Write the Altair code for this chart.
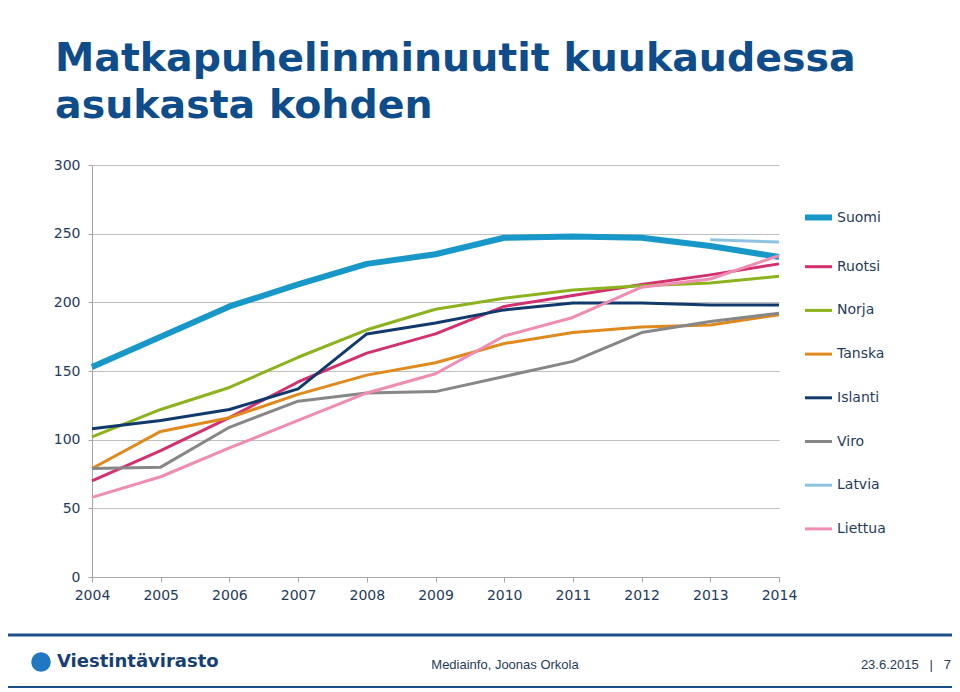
import altair as alt
import pandas as pd

years = list(range(2004, 2015))
series = ["Suomi", "Ruotsi", "Norja", "Tanska", "Islanti", "Viro", "Latvia", "Liettua"]
colors = ["#1798c8", "#d3306f", "#8cb31d", "#e0891c", "#103a6b", "#878787", "#8ec3e0", "#f08cb2"]
widths = [6, 3, 3, 3, 3, 3, 3, 3]

suomi = [153, 175, 197, 213, 228, 235, 247, 248, 247, 241, 233]
ruotsi = [70, 92, 116, 142, 163, 177, 197, 205, 213, 220, 228]
norja = [102, 122, 138, 160, 180, 195, 203, 209, 212, 214, 219]
tanska = [79, 106, 116, 133, 147, 156, 170, 178, 182, 183.5, 191]
islanti = [108, 114, 122, 137, 177, 185, 194.5, 199.5, 199.5, 198, 198]
viro = [79, 80, 109, 128, 134, 135, 146, 157, 178, 186, 192]
latvia = [None] * 9 + [245.5, 244]
liettua = [58, 73, 94, 114, 134, 148, 175.5, 189, 211, 217, 234]

values = [suomi, ruotsi, norja, tanska, islanti, viro, latvia, liettua]

title_lines = ["Matkapuhelinminuutit kuukaudessa", "asukasta kohden"]
footer_center = "Mediainfo, Joonas Orkola"
footer_right = "23.6.2015\u00a0\u00a0\u00a0|\u00a0\u00a0\u00a07"
logo_text = "Viestintävirasto"

rows = []
for i, (s, vals) in enumerate(zip(series, values)):
    for y, v in zip(years, vals):
        if v is not None:
            rows.append({"series": s, "year": y, "value": v, "order": i})
df = pd.DataFrame(rows)

W, H = 687, 412
NAVY = "#1f3b5c"
BLUE = "#0f4c8a"

legend = alt.Legend(
    orient="none", legendX=710, legendY=36, title=None,
    symbolType="stroke", symbolSize=729, symbolStrokeWidth=3.5, labelFont="DejaVu Sans",
    labelFontSize=14, labelColor=NAVY, rowPadding=21.7, labelOffset=2,
)

lines = alt.Chart(df).mark_line(strokeCap="butt", strokeJoin="round").encode(
    x=alt.X("year:Q", scale=alt.Scale(domain=[2004, 2014], nice=False, zero=False),
            axis=alt.Axis(values=years, format="d", title=None, grid=False,
                          labelFont="DejaVu Sans", labelFontSize=14, labelColor=NAVY,
                          domainColor="#a6a6a6", tickColor="#a6a6a6", tickSize=5,
                          labelPadding=6, labelFlush=False, labelOverlap=False)),
    y=alt.Y("value:Q", scale=alt.Scale(domain=[0, 300], nice=False),
            axis=alt.Axis(values=[0, 50, 100, 150, 200, 250, 300], title=None,
                          labelFont="DejaVu Sans", labelFontSize=14, labelColor=NAVY,
                          gridColor="#bfbfbf", domainColor="#a6a6a6", tickColor="#a6a6a6",
                          tickSize=4, labelPadding=8)),
    color=alt.Color("series:N", scale=alt.Scale(domain=series, range=colors), legend=legend),
    strokeWidth=alt.StrokeWidth("series:N", scale=alt.Scale(type="ordinal", domain=series, range=widths), legend=None),
    order=alt.Order("order:Q"),
)

title = alt.Chart(pd.DataFrame({"t": ["\n".join(title_lines)]})).mark_text(
    align="left", baseline="alphabetic", font="DejaVu Sans", fontSize=39.5,
    fontWeight="bold", color=BLUE, lineBreak="\n", lineHeight=47,
).encode(x=alt.value(-37), y=alt.value(-94), text="t:N")

rule_top = alt.Chart(pd.DataFrame({"a": [0]})).mark_rule(color="#1b4f8a", strokeWidth=3).encode(
    x=alt.value(-100), x2=alt.value(900), y=alt.value(470))

bar_bottom = alt.Chart(pd.DataFrame({"a": [0]})).mark_rect(color="#1b4f8a").encode(
    x=alt.value(-100), x2=alt.value(900), y=alt.value(521), y2=alt.value(530))

logo_icon = alt.Chart(pd.DataFrame({"a": [0]})).mark_point(
    filled=True, shape="circle", size=380, color="#1f78c1", opacity=1).encode(
    x=alt.value(-51), y=alt.value(497))

logo = alt.Chart(pd.DataFrame({"t": [logo_text]})).mark_text(
    align="left", baseline="middle", font="DejaVu Sans", fontSize=18,
    fontWeight="bold", color="#173f73").encode(x=alt.value(-35), y=alt.value(497), text="t:N")

fc = alt.Chart(pd.DataFrame({"t": [footer_center]})).mark_text(
    align="center", baseline="middle", font="Liberation Sans", fontSize=13,
    color=NAVY).encode(x=alt.value(413), y=alt.value(500), text="t:N")

fr = alt.Chart(pd.DataFrame({"t": [footer_right]})).mark_text(
    align="right", baseline="middle", font="Liberation Sans", fontSize=13,
    color=NAVY).encode(x=alt.value(859), y=alt.value(500), text="t:N")

chart = alt.layer(lines, title, rule_top, bar_bottom, logo_icon, logo, fc, fr).properties(
    width=W, height=H,
    autosize=alt.AutoSizeParams(type="none"),
    padding={"left": 84, "top": 157, "right": 944 - 84 - W, "bottom": 680 - 157 - H},
    background="white",
).configure_view(stroke=None)

chart.save("out.html", embed_options={"renderer": "svg", "actions": False})
